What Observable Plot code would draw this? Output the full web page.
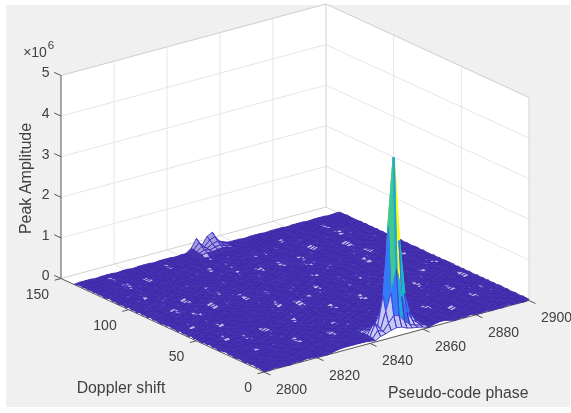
<!DOCTYPE html>
<html><head><meta charset="utf-8">
<script src="https://cdn.jsdelivr.net/npm/d3@7"></script>
<script src="https://cdn.jsdelivr.net/npm/@observablehq/plot@0.6"></script>
<style>
html,body{margin:0;padding:0;background:#fff;width:571px;height:413px;overflow:hidden}
#bg{position:absolute;left:6px;top:5px;width:564px;height:402px;background:#f0f0f0}
#chart{position:absolute;left:0;top:0;filter:blur(0.35px)}
</style></head><body><div id="bg"></div><div id="chart"></div>
<script>
// tick values and labels
const phaseTicks = [2800, 2820, 2840, 2860, 2880, 2900];
const dopplerTicks = [0, 50, 100, 150];
const ampTicks = [0, 1, 2, 3, 4, 5];
const phaseStep = 2, dopplerStep = 2;
const ampDigit = 0.014; // one digit of noiseRows, in units of 1e6
// noise floor of the correlation surface, row 0 = Doppler 0, digit per 2 code-phase units
const noiseRows = [
"1021102132 1102455555 4212132322 1035530213 11201021102",
"2132413213 2141344432 3423132413 2333423132 21321231202",
"3241532142 3152413524 2513423241 3251423413 32142312413",
"2415324613 4215326142 3524153425 1342513241 42315324212",
"4132541325 3142534153 2613425136 2415324132 51324153242",
"2513642413 5241364251 3415263413 5241342514 23415241323",
"3142513524 1326415324 2514362514 2351423514 32415324132",
"1425364213 2514325141 3625143251 4132541325 14232514242",
"2314253142 6251423514 2536142351 4251362413 25314251323",
"3521413625 1423514253 1425132641 3521435142 35142316242",
"2413532514 2351436251 3241532514 6231425142 36251423513",
"1524213615 2431524135 2614352413 5241352436 14235142323",
"3412535241 4362513241 5362414253 1425136241 32514253242",
"2531426314 2514135241 6241352514 3615243142 53142614233",
"4213524153 6241352514 2351462351 4251324153 26315241322",
"3142651423 1524136251 4325142635 1432541362 51423514233",
"2513241536 2413525136 1423514253 6142351425 13624153242",
"1432536142 5314261352 4153624135 2514326142 53142351423",
"3524142513 6241532414 2536142351 4263514235 14253241532",
"2413653241 3524135261 4351423614 2513524136 25134251423",
"4152324153 2641352413 6251342513 5241363241 52413625132",
"2314562314 1526314252 3142536142 3514251324 16352413242",
"3526142351 4235142613 5241352416 3241536241 32514235143",
"1423514263 5142351426 1352413624 1532514263 14253142532",
"2514236142 3514253614 2351462513 4251324153 62413524133",
"3142651324 1536241352 4136251423 1652341425 13624153242",
"2413524153 6241325143 6214351426 3514235241 36152413523",
"4251341625 1342536142 3514263142 5314261352 41362514232",
"1352641325 1463251423 6142531426 3514253614 23514251423",
"3524132514 2351426351 4253142635 1423615243 14253641523",
"2143625142 3561423514 2361425134 2516341425 36142351423",
"4312514263 5142614235 1425316241 3524136251 43251362413",
"1524362413 5241325163 4251342651 3241536142 35142635142",
"3261425134 2641352416 2351423614 2531426351 42351426313",
"2415231625 1342516341 3526142351 4261352413 62513241532",
"4132651423 5241362514 2351423652 4135241632 51423615243",
"2514326142 3514263142 5136241352 4163251432 61425314232",
"3425142635 1423561423 5142635142 3516243142 53614235142",
"1632541325 1463251426 3142351462 3514261352 41325163242",
"2413625142 3516241352 4136251324 1562341524 13625143513",
"3541423614 2531426351 4235142613 5241352641 32514236142",
"2142635142 3614253142 6351423514 2635142351 46231524133",
"4351264132 5142361425 1342653142 5136241352 41325146323",
"1624351425 1362514235 1462351423 5142635142 36142513242",
"3142563142 3514263251 4132651423 5241362514 23514263142",
"2531423615 2413524136 2514236142 5314263514 25136241533",
"4213652413 5142635142 3516241352 4163251423 61425314232",
"1462351425 3126415324 1536241352 4136251324 15623415243",
"3524162351 4263514235 1426351423 5142635142 36142531423",
"2143526142 3514253614 2351462513 4251324153 62413524132",
"4251362514 2351426351 4136251423 1652341425 13624153243",
"1362514235 1462314251 3624135241 3625134251 63241532412",
"3425142613 5241632514 2351426314 2531462351 42351426313",
"2514632514 2361425134 2516341425 3614235142 35162413522",
"1342514263 5142351426 1352413624 1532514263 14253142533",
"3261425314 2635142351 4261352413 6251324153 26413524132",
"2415362413 5241325163 4251342651 3241536142 35142635143",
"4132514263 1425316241 3524136251 4325136241 35241625132",
"2631425142 3561423514 2361425134 2516341425 36142351423",
"1524326142 3514263142 5136241352 4163251432 61425314232",
"3142651423 5241362514 2351423652 4135241632 51423615243",
"2513264132 5142361425 1342653142 5136241352 41325146322",
"3413526142 3514253614 2351462513 4251324153 62413524133",
"2142513241 3243142324 1324132413 2324132412 31423241322",
"3231423142 3142324132 3142314232 4132314213 23142313242",
"2322132313 2231322132 3122313223 1322313213 22313223132",
"3213231322 3132231232 3132213223 1323132213 23132231222",
"2231322313 2223132223 2132322231 2322132223 13222313223",
"3222132232 2322132322 3213222322 3122232232 22132223222",
"2232223223 2232223222 3223222322 2322232223 22322232222",
"1222122212 2122212221 2221222122 2212221222 12221222122"
];
// places where the mesh opens up (light flecks): grid column, first row, rows long
const fleckCols = [5,5,15,4,4,6,14,22,22,23,6,10,25,4,12,16,32,37,44,42,24,21,30,32,35,27,11,35,40,43,46,48,48,44,43,30,9,19,8,18,12,28,35,40,37,30,25,16,6,20,27,33,38,44,47,14,20,33,38,44,10,2,3,17,24,29];
const fleckRows = [65,59,64,52,39,36,49,63,53,46,28,19,42,10,51,38,46,54,58,50,21,27,22,31,33,33,9,8,21,15,38,31,20,63,45,58,60,57,44,30,30,58,62,40,44,40,50,20,18,12,10,14,5,8,12,44,38,50,28,28,38,30,20,8,30,50];
const fleckLens = [3,4,3,3,4,3,2,3,4,3,3,3,2,3,3,4,3,3,3,4,3,4,3,2,3,3,3,3,4,3,3,2,3,3,3,2,3,2,3,3,2,3,2,3,2,3,3,2,3,3,2,3,2,3,2,3,2,3,3,2,3,2,3,3,2,3];
// main correlation peak, amplitude in 1e6 at these grid positions
const peakCols = [22, 23, 24, 25, 26, 27, 28, 29, 30];
const peakRowIds = [0, 1, 2, 3, 4, 5, 6];
const peakValues = [
 [0.10, 0.13, 0.18, 0.21, 0.19, 0.13, 0.10, 0.08, 0.05],
 [0.22, 0.16, 0.32, 0.48, 0.44, 0.28, 0.16, 0.10, 0.07],
 [0.35, 0.18, 0.58, 1.00, 1.55, 0.85, 0.42, 0.20, 0.10],
 [0.28, 0.25, 0.95, 2.60, 4.28, 2.20, 0.85, 0.36, 0.14],
 [0.15, 0.26, 0.52, 0.95, 1.50, 0.90, 0.44, 0.22, 0.10],
 [0.11, 0.17, 0.27, 0.40, 0.55, 0.38, 0.23, 0.14, 0.09],
 [0.08, 0.11, 0.15, 0.19, 0.23, 0.17, 0.12, 0.09, 0.06]
];
// small side lobe at the far Doppler edge
const lobeCols = [22, 23, 24, 25, 26, 27, 28];
const lobeRowIds = [66, 67, 68, 69, 70];
const lobeValues = [
 [0.08, 0.10, 0.09, 0.11, 0.12, 0.09, 0.07],
 [0.09, 0.14, 0.10, 0.14, 0.16, 0.10, 0.08],
 [0.10, 0.19, 0.11, 0.19, 0.22, 0.11, 0.08],
 [0.11, 0.26, 0.12, 0.25, 0.30, 0.13, 0.08],
 [0.12, 0.33, 0.12, 0.31, 0.38, 0.14, 0.07]
];
// view of the box (MATLAB-style orthographic camera), expressed as screen vectors
const view = {ox: 263.5, oy: 371.5, xx: 265, xy: -71.5, yx: -203, yy: -93.5, zy: -40.6};
const project = (phase, doppler, amp) => {
  const t = (phase - 2800) / 100, s = doppler / 150;
  return [view.ox + view.xx * t + view.yx * s, view.oy + view.xy * t + view.yy * s + view.zy * amp];
};
const P = (a, b, c) => { const [x, y] = project(a, b, c); return {x, y}; };

// assemble the height grid
const grid = noiseRows.map(r => { const c = r.replace(/ /g, ""); return d3.range(51).map(i => (+(c[i] ?? "3")) * ampDigit); });
const rawGrid = grid.map(r => r.slice());
peakRowIds.forEach((r, a) => peakCols.forEach((c, b) => { grid[r][c] = peakValues[a][b]; }));
lobeRowIds.forEach((r, a) => lobeCols.forEach((c, b) => { grid[r][c] = lobeValues[a][b]; }));
const phaseAt = i => 2800 + i * phaseStep, dopplerAt = j => j * dopplerStep;
const vertex = (i, j) => P(phaseAt(i), dopplerAt(j), grid[j][i]);
const flecks = new Set();
fleckCols.forEach((c, k) => d3.range(fleckLens[k]).forEach(n => flecks.add(c + ":" + (fleckRows[k] + n))));
const inPeak = (i, j) => j <= 6 && i >= 21 && i <= 30;
const inLobe = (i, j) => j >= 66 && i >= 22 && i <= 27;

const nCols = grid[0].length, nRows = grid.length;
const rowMarks = [];
for (let j = nRows - 2; j >= 0; j--) {
  const dark = [], mid = [], light = [], open = [], lobe = [], hot = [], edges = [];
  for (let i = nCols - 2; i >= 0; i--) {
    const corners = [vertex(i, j), vertex(i + 1, j), vertex(i + 1, j + 1), vertex(i, j + 1), vertex(i, j)];
    const v = grid[j + 1][i];
    const bucket = inPeak(i, j) ? (v > 0.7 ? hot : open) : inLobe(i, j) ? lobe
      : flecks.has(i + ":" + j) ? light : rawGrid[j][i] >= 6 * ampDigit ? mid : dark;
    corners.forEach(p => bucket.push({id: i, v, ...p}));
    const edge = (a, b, z) => edges.push({x1: a.x, y1: a.y, x2: b.x, y2: b.y, z});
    edge(vertex(i, j + 1), vertex(i + 1, j + 1), grid[j + 1][i]);
    edge(vertex(i + 1, j), vertex(i + 1, j + 1), grid[j][i + 1]);
    edge(vertex(i, j), vertex(i + 1, j), grid[j][i]);
    edge(vertex(i, j), vertex(i, j + 1), grid[j][i]);
  }
  const facets = (rows, fill) => rows.length ? [Plot.line(rows, {x: "x", y: "y", z: "id", fill, stroke: "none"})] : [];
  rowMarks.push(...facets(dark, "#4735ae"), ...facets(mid, "#6f62c4"), ...facets(light, "#bdb6e6"),
    ...facets(open, "#c3c8f5"), ...facets(lobe, "#a49ade"), ...facets(hot, "v"));
  rowMarks.push(Plot.link(edges, {x1: "x1", y1: "y1", x2: "x2", y2: "y2", stroke: "z", strokeWidth: d => d.z > 1 ? 2.2 : 0.9}));
}

const pMax = 2900, dMax = 150, aMax = 5;
const wall = pts => Plot.line([...pts, pts[0]].map(p => P(...p)), {x: "x", y: "y", fill: "#fff", stroke: "none"});
const seg = (rows, stroke, strokeWidth) => Plot.link(rows, {
  x1: d => P(...d[0]).x, y1: d => P(...d[0]).y, x2: d => P(...d[1]).x, y2: d => P(...d[1]).y, stroke, strokeWidth});
const gridColor = "#e6e6e6", boxColor = "#d2d2d2", axisColor = "#555555";
const gridRows = [
  ...ampTicks.slice(1).flatMap(a => [[[2800, dMax, a], [pMax, dMax, a]], [[pMax, dMax, a], [pMax, 0, a]]]),
  ...phaseTicks.slice(1, -1).flatMap(p => [[[p, dMax, 0], [p, dMax, aMax]], [[p, 0, 0], [p, dMax, 0]]]),
  ...dopplerTicks.slice(1, -1).flatMap(d => [[[pMax, d, 0], [pMax, d, aMax]], [[2800, d, 0], [pMax, d, 0]]])
];
const tickLabel = (rows, opts) => Plot.text(rows, {fontSize: 14, fill: "#404040", fontFamily: "Liberation Sans", ...opts});
const corner = (text, opts) => Plot.text([text], {text: d => d, frameAnchor: "top-left", textAnchor: "middle", lineAnchor: "middle", fontFamily: "Liberation Sans", fill: "#404040", ...opts});

const chart = Plot.plot({
  width: 571, height: 413, margin: 0,
  style: {background: "transparent"},
  x: {domain: [0, 571], range: [0, 571], axis: null},
  y: {domain: [0, 413], range: [0, 413], axis: null},
  color: {type: "linear", domain: [0, 0.54, 1.07, 1.6, 2.14, 2.68, 3.21, 3.75, 4.28],
          range: ["#3e26a8", "#4748ec", "#2e87f7", "#1eaadd", "#13beb7", "#48cb86", "#a8c43a", "#fcc538", "#f9fb15"]},
  marks: [
    wall([[2800, dMax, 0], [pMax, dMax, 0], [pMax, dMax, aMax], [2800, dMax, aMax]]),
    wall([[pMax, dMax, 0], [pMax, 0, 0], [pMax, 0, aMax], [pMax, dMax, aMax]]),
    wall([[2800, 0, 0], [pMax, 0, 0], [pMax, dMax, 0], [2800, dMax, 0]]),
    seg(gridRows, gridColor, 1),
    seg([[[2800, dMax, aMax], [pMax, dMax, aMax]], [[pMax, dMax, aMax], [pMax, 0, aMax]],
         [[pMax, dMax, 0], [pMax, dMax, aMax]], [[pMax, 0, 0], [pMax, 0, aMax]],
         [[2800, dMax, 0], [pMax, dMax, 0]], [[pMax, dMax, 0], [pMax, 0, 0]]], boxColor, 1),
    seg([[[2800, dMax, 0], [2800, dMax, aMax]], [[2800, dMax, 0], [2800, 0, 0]], [[2800, 0, 0], [pMax, 0, 0]]], axisColor, 1),
    seg(ampTicks.map(a => [[2800, dMax, a], [2800, dMax + 5, a]]), axisColor, 1),
    seg(dopplerTicks.map(d => [[2800, d, 0], [2797.6, d, 0]]), axisColor, 1),
    seg(phaseTicks.map(p => [[p, 0, 0], [p, -4.8, 0]]), axisColor, 1),
    ...rowMarks,
    tickLabel(ampTicks, {x: a => P(2800, dMax, a).x, y: a => P(2800, dMax, a).y, text: d => String(d), textAnchor: "end", dx: -11.5, dy: -2.5}),
    tickLabel(dopplerTicks, {x: d => P(2800, d, 0).x, y: d => P(2800, d, 0).y, text: d => String(d), textAnchor: "end", dx: -12, dy: 16}),
    tickLabel(phaseTicks, {x: p => P(p, 0, 0).x, y: p => P(p, 0, 0).y, text: d => String(d), textAnchor: "start", dx: 12, dy: 17.5}),
    corner("Doppler shift", {fontSize: 15.8, dx: 120.5, dy: 387}),
    corner("Pseudo-code phase", {fontSize: 15.8, dx: 457.7, dy: 392.7}),
    corner("Peak Amplitude", {fontSize: 16, dx: 25, dy: 178, rotate: -90}),
    corner("×10", {fontSize: 14, dx: 34.5, dy: 52}),
    corner("6", {fontSize: 11.5, dx: 50.5, dy: 45})
  ]
});
document.getElementById("chart").appendChild(chart);
</script></body></html>
